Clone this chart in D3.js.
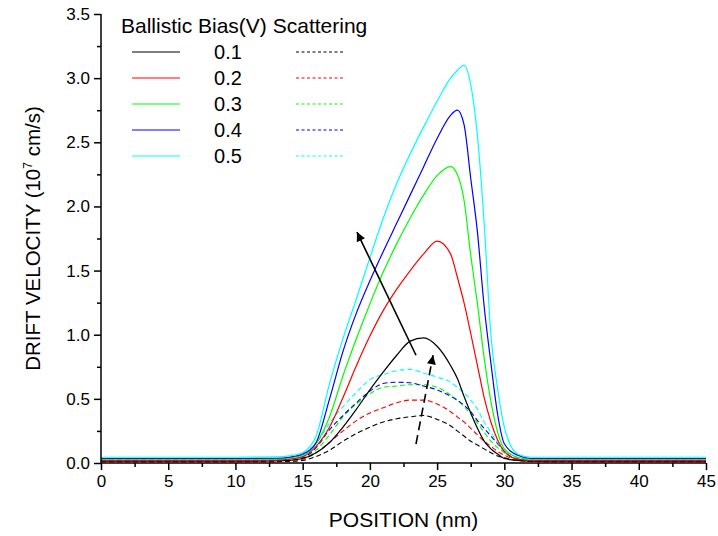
<!DOCTYPE html>
<html>
<head>
<meta charset="utf-8">
<script src="https://cdn.jsdelivr.net/npm/d3@7"></script>
<style>
  body { margin: 0; background: #fff; }
  text { font-family: "Liberation Sans", Arial, sans-serif; }
</style>
</head>
<body>
<div class="container"></div>
<script>
var width = 718;
var height = 536;
var margin = {top: 14, right: 12, bottom: 73, left: 101};

// shared x grid (nm)
var positions = [0, 10, 13, 14, 15, 16, 17, 18, 19, 20, 21, 22, 23, 24, 25, 26, 26.5, 27, 27.5, 28, 28.5, 29, 29.5, 30, 31, 32, 35, 45];

// ballistic (solid)
var ball01 = [0.015,0.015,0.016,0.02,0.035,0.08,0.16,0.28,0.42,0.57,0.71,0.84,0.95,0.975,0.91,0.76,0.66,0.52,0.39,0.27,0.17,0.11,0.07,0.035,0.02,0.015,0.015,0.015];
var ball02 = [0.02,0.02,0.022,0.03,0.05,0.13,0.28,0.51,0.76,0.99,1.19,1.355,1.50,1.63,1.73,1.63,1.45,1.25,1.01,0.76,0.51,0.32,0.18,0.09,0.03,0.02,0.02,0.02];
var ball03 = [0.03,0.03,0.032,0.04,0.06,0.15,0.36,0.68,0.97,1.24,1.49,1.71,1.91,2.09,2.24,2.31,2.25,2.05,1.62,1.24,0.82,0.48,0.24,0.11,0.045,0.03,0.03,0.03];
var ball04 = [0.035,0.035,0.037,0.045,0.07,0.16,0.50,0.87,1.17,1.42,1.65,1.87,2.09,2.31,2.53,2.71,2.75,2.64,2.22,1.80,1.22,0.78,0.38,0.15,0.06,0.035,0.035,0.035];
var ball05 = [0.045,0.045,0.047,0.055,0.08,0.21,0.62,0.97,1.28,1.60,1.91,2.18,2.41,2.62,2.82,3.00,3.06,3.10,2.95,2.55,1.87,1.00,0.58,0.28,0.07,0.045,0.045,0.045];

// scattering (dashed)
var scat01 = [0.01,0.01,0.011,0.013,0.02,0.05,0.10,0.17,0.23,0.28,0.32,0.345,0.36,0.37,0.34,0.29,0.25,0.21,0.17,0.14,0.11,0.08,0.055,0.04,0.02,0.012,0.01,0.01];
var scat02 = [0.015,0.015,0.016,0.018,0.03,0.08,0.16,0.25,0.33,0.39,0.43,0.47,0.49,0.49,0.46,0.40,0.36,0.32,0.27,0.22,0.17,0.13,0.09,0.06,0.025,0.017,0.015,0.015];
var scat03 = [0.02,0.02,0.021,0.022,0.035,0.10,0.22,0.36,0.46,0.54,0.59,0.60,0.61,0.61,0.59,0.53,0.49,0.44,0.38,0.31,0.24,0.17,0.12,0.08,0.03,0.02,0.02,0.02];
var scat04 = [0.022,0.022,0.023,0.025,0.04,0.12,0.26,0.37,0.47,0.56,0.62,0.63,0.625,0.60,0.57,0.52,0.49,0.45,0.40,0.33,0.27,0.21,0.15,0.09,0.03,0.022,0.022,0.022];
var scat05 = [0.028,0.028,0.029,0.03,0.05,0.15,0.31,0.44,0.55,0.65,0.69,0.72,0.73,0.70,0.67,0.63,0.59,0.55,0.49,0.42,0.32,0.24,0.16,0.10,0.04,0.028,0.028,0.028];

var biases = ["0.1", "0.2", "0.3", "0.4", "0.5"];
var colors = ["#000000", "#ff0000", "#00ff00", "#0000ff", "#00ffff"];
var ballistic = [ball01, ball02, ball03, ball04, ball05];
var scattering = [scat01, scat02, scat03, scat04, scat05];

// arrows: [from, to] in data units
var arrowSolid = [[23.43, 0.84], [19.04, 1.80]];
var arrowDashed = [[23.43, 0.148], [24.7, 0.84]];

var xTicks = d3.range(0, 46, 5);
var yTicks = d3.range(0, 3.51, 0.5);

//-----------------------------------------
// SVG
var svg = d3.select(".container")
  .append("svg")
  .attr("width", width)
  .attr("height", height);

var xScale = d3.scaleLinear().domain([0, 45]).range([margin.left, width - margin.right]);
var yScale = d3.scaleLinear().domain([0, 3.5]).range([height - margin.bottom, margin.top]);

var line = d3.line()
  .x((d) => xScale(d[0]))
  .y((d) => yScale(d[1]))
  .curve(d3.curveMonotoneX);

//-----------------------------------------
// CURVES
var plot = svg.append("g");
scattering.forEach(function(s, i) {
  plot.append("path")
    .attr("d", line(positions.map((x, j) => [x, s[j]])))
    .attr("fill", "none")
    .attr("stroke", colors[i])
    .attr("stroke-width", 1.1)
    .attr("stroke-dasharray", "5,3");
});
ballistic.forEach(function(s, i) {
  plot.append("path")
    .attr("d", line(positions.map((x, j) => [x, s[j]])))
    .attr("fill", "none")
    .attr("stroke", colors[i])
    .attr("stroke-width", 1.2);
});

//-----------------------------------------
// ARROWS
svg.append("defs").append("marker")
  .attr("id", "head")
  .attr("viewBox", "0 0 10 10")
  .attr("refX", 10).attr("refY", 5)
  .attr("markerUnits", "userSpaceOnUse")
  .attr("markerWidth", 14).attr("markerHeight", 9)
  .attr("orient", "auto")
  .append("path")
  .attr("d", "M0,0 L10,5 L0,10 Z")
  .attr("fill", "#000");

svg.append("line")
  .attr("x1", xScale(arrowSolid[0][0])).attr("y1", yScale(arrowSolid[0][1]))
  .attr("x2", xScale(arrowSolid[1][0])).attr("y2", yScale(arrowSolid[1][1]))
  .attr("stroke", "#000").attr("stroke-width", 1.6)
  .attr("marker-end", "url(#head)");

svg.append("line")
  .attr("x1", xScale(arrowDashed[0][0])).attr("y1", yScale(arrowDashed[0][1]))
  .attr("x2", xScale(arrowDashed[1][0])).attr("y2", yScale(arrowDashed[1][1]))
  .attr("stroke", "#000").attr("stroke-width", 1.6)
  .attr("stroke-dasharray", "9,5")
  .attr("marker-end", "url(#head)");

//-----------------------------------------
// AXES
var xAxis = d3.axisBottom(xScale).tickValues(xTicks).tickSize(7).tickPadding(5).tickFormat(d3.format("d"));
var xMinor = d3.axisBottom(xScale).tickValues(d3.range(2.5, 45, 5)).tickSize(4).tickFormat("");
var yAxis = d3.axisLeft(yScale).tickValues(yTicks).tickSize(7).tickPadding(4).tickFormat(d3.format(".1f"));
var yMinor = d3.axisLeft(yScale).tickValues(d3.range(0.25, 3.5, 0.5)).tickSize(4).tickFormat("");

function styleAxis(g) {
  g.selectAll("path, line").attr("stroke", "#000").attr("stroke-width", 1.5);
  g.select(".domain").attr("d", null);
  g.selectAll("text").attr("font-size", 17).attr("fill", "#000")
    .attr("font-family", "Liberation Sans, Arial, sans-serif");
}

var xTrans = "translate(0," + (height - margin.bottom) + ")";
svg.append("g").attr("transform", xTrans).call(xMinor).call(styleAxis);
svg.append("g").attr("transform", xTrans).call(xAxis).call(styleAxis);
svg.append("g").attr("transform", "translate(" + margin.left + ",0)").call(yMinor).call(styleAxis);
svg.append("g").attr("transform", "translate(" + margin.left + ",0)").call(yAxis).call(styleAxis);

svg.append("line")
  .attr("x1", margin.left).attr("x2", width - margin.right)
  .attr("y1", height - margin.bottom).attr("y2", height - margin.bottom)
  .attr("stroke", "#000").attr("stroke-width", 1.5);
svg.append("line")
  .attr("x1", margin.left).attr("x2", margin.left)
  .attr("y1", margin.top).attr("y2", height - margin.bottom)
  .attr("stroke", "#000").attr("stroke-width", 1.5);

// axis titles
svg.append("text")
  .attr("x", (margin.left + width - margin.right) / 2)
  .attr("y", 527)
  .attr("text-anchor", "middle")
  .attr("font-size", 21)
  .text("POSITION (nm)");

var yTitle = svg.append("text")
  .attr("transform", "translate(40," + ((margin.top + height - margin.bottom) / 2) + ") rotate(-90)")
  .attr("text-anchor", "middle")
  .attr("font-size", 20.5);
yTitle.append("tspan").text("DRIFT VELOCITY (10");
yTitle.append("tspan").attr("font-size", 12).attr("dy", -8).text("7");
yTitle.append("tspan").attr("dy", 8).text(" cm/s)");

//-----------------------------------------
// LEGEND
svg.append("text")
  .attr("x", 121).attr("y", 33)
  .attr("font-size", 21)
  .text("Ballistic Bias(V) Scattering");

var legend = svg.selectAll(".legend")
  .data(biases)
  .enter()
  .append("g")
  .attr("class", "legend")
  .attr("transform", (d, i) => "translate(0," + (52 + i * 26) + ")");

legend.append("line")
  .attr("x1", 132).attr("x2", 180)
  .attr("stroke", (d, i) => colors[i]).attr("stroke-width", 1.2);
legend.append("text")
  .attr("x", 228).attr("y", 7)
  .attr("text-anchor", "middle")
  .attr("font-size", 20)
  .text((d) => d);
legend.append("line")
  .attr("x1", 296).attr("x2", 345)
  .attr("stroke", (d, i) => colors[i]).attr("stroke-width", 1.1)
  .attr("stroke-dasharray", "3,2.5");
</script>
</body>
</html>
